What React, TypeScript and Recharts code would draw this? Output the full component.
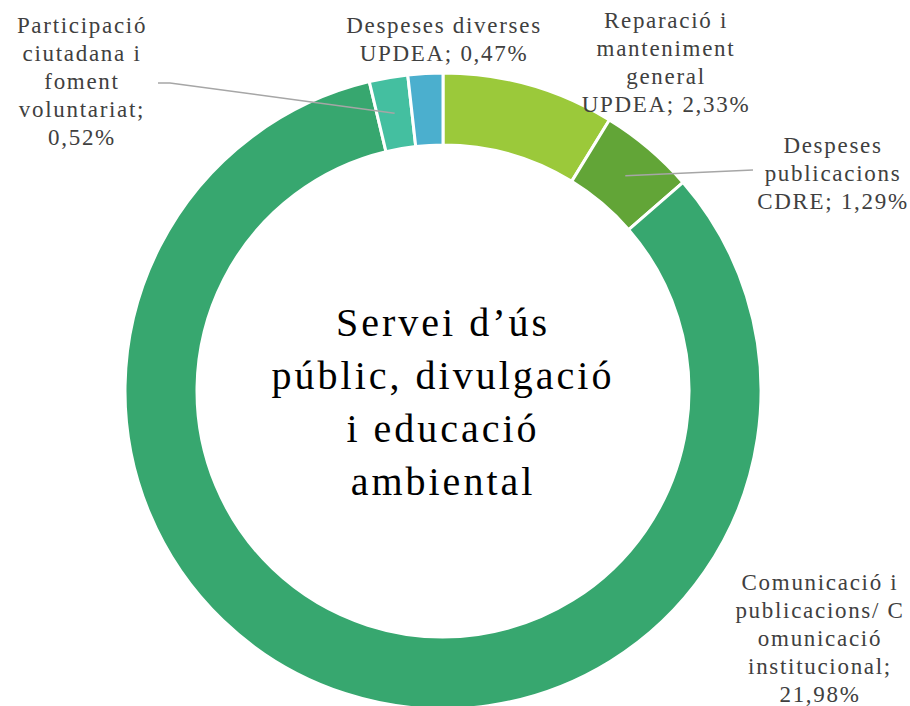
import { PieChart, Pie, Cell } from 'recharts'

// Partides (ordre horari des de dalt)
const categories = [
  'Reparació i\nmanteniment\ngeneral\nUPDEA',
  'Despeses\npublicacions\nCDRE',
  'Comunicació i\npublicacions/ C\nomunicació\ninstitucional',
  'Participació\nciutadana i\nfoment\nvoluntariat',
  'Despeses diverses\nUPDEA',
]
const values = [2.33, 1.29, 21.98, 0.52, 0.47]
const separators = ['; ', '; ', ';\n', ';\n', '; ']
const colors = ['#9BC93A', '#62A537', '#37A76F', '#44BFA0', '#4BAFCE']
const centerLines = ['Servei d’ús', 'públic, divulgació', 'i educació', 'ambiental']

// posició de les etiquetes respecte al centre del donut
const LABEL_LAYOUT = [
  { dx: 223, dy: -371 },
  { dx: 390, dy: -246, line: [{ dx: 310, dy: -221 }] },
  { dx: 377, dy: 191 },
  { dx: -361, dy: -366, line: [{ dx: -273, dy: -308 }, { dx: -285, dy: -308 }] },
  { dx: 1, dy: -366 },
]

const fmtPct = (v: number) => v.toFixed(2).replace('.', ',') + '%'

const data = categories.map((name, i) => ({
  name,
  value: values[i],
  text: name + separators[i] + fmtPct(values[i]),
}))

const RAD = Math.PI / 180
const LABEL_FONT = '"Liberation Serif", "Times New Roman", serif'

const renderCenter = (cx: number, cy: number) => (
  <text
    textAnchor="middle" fill="#000"
    fontFamily={LABEL_FONT} fontSize={40} letterSpacing={3}
  >
    {centerLines.map((l, i) => (
      <tspan key={i} x={cx} y={cy - 69 + i * 53} dominantBaseline="central">{l}</tspan>
    ))}
  </text>
)

const renderLabel = (props: any) => {
  const { cx, cy, midAngle, innerRadius, outerRadius, index } = props
  const lay = LABEL_LAYOUT[index]
  const lines = data[index].text.split('\n')
  const x = cx + lay.dx
  const y0 = cy + lay.dy
  let leader = null
  if (lay.line) {
    const r = (innerRadius + outerRadius) / 2
    const sx = cx + r * Math.cos(-midAngle * RAD)
    const sy = cy + r * Math.sin(-midAngle * RAD)
    const pts = [[sx, sy], ...lay.line.map(p => [cx + p.dx, cy + p.dy])]
    leader = (
      <polyline
        points={pts.map(p => p.join(',')).join(' ')}
        fill="none" stroke="#A6A6A6" strokeWidth={1.5}
      />
    )
  }
  return (
    <g key={'lbl' + index}>
      {index === 0 && renderCenter(cx, cy)}
      {leader}
      <text
        x={x} y={y0} textAnchor="middle" fill="#404040"
        fontFamily={LABEL_FONT} fontSize={23} letterSpacing={1.7}
      >
        {lines.map((l, i) => (
          <tspan key={i} x={x} y={y0 + i * 28} dominantBaseline="central">{l}</tspan>
        ))}
      </text>
    </g>
  )
}

export default function App() {
  return (
    <div style={{ position: 'absolute', left: 0, top: 0, width: 910, height: 706, background: '#fff' }}>
      <PieChart width={910} height={706} margin={{ top: 0, right: 0, bottom: 0, left: 0 }}>
        <Pie
          data={data} dataKey="value" nameKey="name"
          cx={443} cy={391} innerRadius={246} outerRadius={318}
          startAngle={90} endAngle={-270}
          stroke="#fff" strokeWidth={3}
          label={renderLabel} labelLine={false}
          isAnimationActive={false}
        >
          {data.map((d, i) => <Cell key={d.name} fill={colors[i]} />)}
        </Pie>
      </PieChart>
    </div>
  )
}
